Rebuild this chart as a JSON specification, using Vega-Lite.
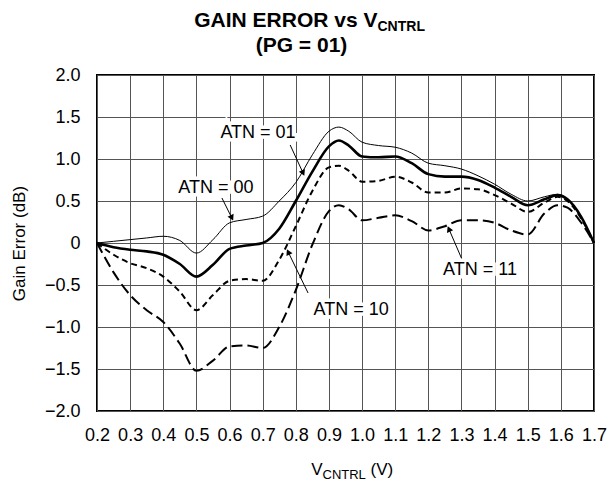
{
  "$schema": "https://vega.github.io/schema/vega-lite/v6.json",
  "width": 497,
  "height": 336,
  "autosize": "none",
  "padding": {"left": 97, "top": 75, "right": 22, "bottom": 69},
  "config": {
    "font": "Liberation Sans",
    "view": {"stroke": "black", "strokeWidth": 2},
    "axis": {"labelColor": "black", "titleColor": "black", "labelFont": "Liberation Sans", "titleFont": "Liberation Sans"}
  },
  "datasets": {
    "curves": [
      {"atn": "00", "v": 0.2, "g": 0}, {"atn": "00", "v": 0.25, "g": 0.02}, {"atn": "00", "v": 0.3, "g": 0.04}, {"atn": "00", "v": 0.35, "g": 0.06}, {"atn": "00", "v": 0.4, "g": 0.08}, {"atn": "00", "v": 0.45, "g": 0.03}, {"atn": "00", "v": 0.5, "g": -0.12}, {"atn": "00", "v": 0.55, "g": 0.04}, {"atn": "00", "v": 0.6, "g": 0.24}, {"atn": "00", "v": 0.65, "g": 0.28}, {"atn": "00", "v": 0.7, "g": 0.32}, {"atn": "00", "v": 0.75, "g": 0.5}, {"atn": "00", "v": 0.8, "g": 0.72}, {"atn": "00", "v": 0.85, "g": 1.05}, {"atn": "00", "v": 0.9, "g": 1.33}, {"atn": "00", "v": 0.93, "g": 1.38}, {"atn": "00", "v": 0.96, "g": 1.33}, {"atn": "00", "v": 1.0, "g": 1.2}, {"atn": "00", "v": 1.05, "g": 1.16}, {"atn": "00", "v": 1.1, "g": 1.14}, {"atn": "00", "v": 1.15, "g": 1.07}, {"atn": "00", "v": 1.2, "g": 0.95}, {"atn": "00", "v": 1.25, "g": 0.92}, {"atn": "00", "v": 1.3, "g": 0.88}, {"atn": "00", "v": 1.35, "g": 0.8}, {"atn": "00", "v": 1.4, "g": 0.7}, {"atn": "00", "v": 1.45, "g": 0.58}, {"atn": "00", "v": 1.5, "g": 0.5}, {"atn": "00", "v": 1.55, "g": 0.55}, {"atn": "00", "v": 1.59, "g": 0.58}, {"atn": "00", "v": 1.62, "g": 0.52}, {"atn": "00", "v": 1.66, "g": 0.32}, {"atn": "00", "v": 1.7, "g": 0},
      {"atn": "01", "v": 0.2, "g": 0}, {"atn": "01", "v": 0.25, "g": -0.05}, {"atn": "01", "v": 0.3, "g": -0.08}, {"atn": "01", "v": 0.35, "g": -0.1}, {"atn": "01", "v": 0.4, "g": -0.14}, {"atn": "01", "v": 0.45, "g": -0.25}, {"atn": "01", "v": 0.5, "g": -0.4}, {"atn": "01", "v": 0.55, "g": -0.26}, {"atn": "01", "v": 0.6, "g": -0.07}, {"atn": "01", "v": 0.65, "g": -0.03}, {"atn": "01", "v": 0.7, "g": 0.0}, {"atn": "01", "v": 0.75, "g": 0.17}, {"atn": "01", "v": 0.8, "g": 0.5}, {"atn": "01", "v": 0.85, "g": 0.85}, {"atn": "01", "v": 0.9, "g": 1.15}, {"atn": "01", "v": 0.93, "g": 1.22}, {"atn": "01", "v": 0.96, "g": 1.16}, {"atn": "01", "v": 1.0, "g": 1.03}, {"atn": "01", "v": 1.05, "g": 1.02}, {"atn": "01", "v": 1.1, "g": 1.03}, {"atn": "01", "v": 1.15, "g": 0.95}, {"atn": "01", "v": 1.2, "g": 0.82}, {"atn": "01", "v": 1.25, "g": 0.79}, {"atn": "01", "v": 1.3, "g": 0.79}, {"atn": "01", "v": 1.35, "g": 0.75}, {"atn": "01", "v": 1.4, "g": 0.66}, {"atn": "01", "v": 1.45, "g": 0.55}, {"atn": "01", "v": 1.5, "g": 0.45}, {"atn": "01", "v": 1.55, "g": 0.52}, {"atn": "01", "v": 1.59, "g": 0.57}, {"atn": "01", "v": 1.62, "g": 0.52}, {"atn": "01", "v": 1.66, "g": 0.32}, {"atn": "01", "v": 1.7, "g": 0},
      {"atn": "10", "v": 0.2, "g": 0}, {"atn": "10", "v": 0.25, "g": -0.14}, {"atn": "10", "v": 0.3, "g": -0.24}, {"atn": "10", "v": 0.35, "g": -0.3}, {"atn": "10", "v": 0.4, "g": -0.4}, {"atn": "10", "v": 0.45, "g": -0.58}, {"atn": "10", "v": 0.5, "g": -0.8}, {"atn": "10", "v": 0.55, "g": -0.62}, {"atn": "10", "v": 0.6, "g": -0.45}, {"atn": "10", "v": 0.65, "g": -0.43}, {"atn": "10", "v": 0.7, "g": -0.45}, {"atn": "10", "v": 0.75, "g": -0.2}, {"atn": "10", "v": 0.8, "g": 0.2}, {"atn": "10", "v": 0.85, "g": 0.62}, {"atn": "10", "v": 0.9, "g": 0.9}, {"atn": "10", "v": 0.93, "g": 0.92}, {"atn": "10", "v": 0.96, "g": 0.86}, {"atn": "10", "v": 1.0, "g": 0.73}, {"atn": "10", "v": 1.05, "g": 0.74}, {"atn": "10", "v": 1.1, "g": 0.79}, {"atn": "10", "v": 1.15, "g": 0.72}, {"atn": "10", "v": 1.2, "g": 0.6}, {"atn": "10", "v": 1.25, "g": 0.6}, {"atn": "10", "v": 1.3, "g": 0.65}, {"atn": "10", "v": 1.35, "g": 0.64}, {"atn": "10", "v": 1.4, "g": 0.57}, {"atn": "10", "v": 1.45, "g": 0.47}, {"atn": "10", "v": 1.5, "g": 0.37}, {"atn": "10", "v": 1.55, "g": 0.48}, {"atn": "10", "v": 1.59, "g": 0.55}, {"atn": "10", "v": 1.62, "g": 0.5}, {"atn": "10", "v": 1.66, "g": 0.3}, {"atn": "10", "v": 1.7, "g": 0},
      {"atn": "11", "v": 0.2, "g": 0}, {"atn": "11", "v": 0.25, "g": -0.35}, {"atn": "11", "v": 0.3, "g": -0.62}, {"atn": "11", "v": 0.35, "g": -0.8}, {"atn": "11", "v": 0.4, "g": -0.94}, {"atn": "11", "v": 0.45, "g": -1.2}, {"atn": "11", "v": 0.5, "g": -1.52}, {"atn": "11", "v": 0.55, "g": -1.4}, {"atn": "11", "v": 0.6, "g": -1.23}, {"atn": "11", "v": 0.65, "g": -1.22}, {"atn": "11", "v": 0.7, "g": -1.25}, {"atn": "11", "v": 0.75, "g": -1.0}, {"atn": "11", "v": 0.8, "g": -0.56}, {"atn": "11", "v": 0.85, "g": -0.02}, {"atn": "11", "v": 0.9, "g": 0.38}, {"atn": "11", "v": 0.93, "g": 0.45}, {"atn": "11", "v": 0.96, "g": 0.4}, {"atn": "11", "v": 1.0, "g": 0.27}, {"atn": "11", "v": 1.05, "g": 0.3}, {"atn": "11", "v": 1.1, "g": 0.33}, {"atn": "11", "v": 1.15, "g": 0.26}, {"atn": "11", "v": 1.2, "g": 0.15}, {"atn": "11", "v": 1.25, "g": 0.2}, {"atn": "11", "v": 1.3, "g": 0.27}, {"atn": "11", "v": 1.35, "g": 0.27}, {"atn": "11", "v": 1.4, "g": 0.24}, {"atn": "11", "v": 1.45, "g": 0.15}, {"atn": "11", "v": 1.5, "g": 0.1}, {"atn": "11", "v": 1.55, "g": 0.35}, {"atn": "11", "v": 1.59, "g": 0.45}, {"atn": "11", "v": 1.62, "g": 0.42}, {"atn": "11", "v": 1.66, "g": 0.25}, {"atn": "11", "v": 1.7, "g": 0}
    ],
    "notes": [
      {"label": "ATN = 00", "lx": 0.559, "ly": 0.655, "sx": 0.577, "sy": 0.536, "tx": 0.607, "ty": 0.298},
      {"label": "ATN = 01", "lx": 0.686, "ly": 1.31, "sx": 0.783, "sy": 1.167, "tx": 0.822, "ty": 0.833},
      {"label": "ATN = 10", "lx": 0.967, "ly": -0.798, "sx": 0.837, "sy": -0.595, "tx": 0.777, "ty": -0.107},
      {"label": "ATN = 11", "lx": 1.356, "ly": -0.32, "sx": 1.305, "sy": -0.226, "tx": 1.262, "ty": 0.167}
    ]
  },
  "resolve": {"axis": {"x": "independent"}},
  "layer": [
    {
      "data": {"name": "curves"},
      "transform": [{"filter": "datum.atn == '00'"}],
      "mark": {"type": "line", "interpolate": "monotone", "color": "black", "strokeWidth": 1},
      "encoding": {
        "x": {"field": "v", "type": "quantitative", "scale": {"domain": [0.2, 1.7], "nice": false},
          "axis": {"orient": "bottom", "values": [0.2, 0.3, 0.4, 0.5, 0.6, 0.7, 0.8, 0.9, 1.0, 1.1, 1.2, 1.3, 1.4, 1.5, 1.6, 1.7], "format": ".1f", "grid": true, "gridColor": "#555", "gridOpacity": 1, "ticks": false, "domain": false, "labelFontSize": 18, "labelPadding": 15, "labelFlush": false,
            "title": "V", "titleFontSize": 17, "titleFontWeight": "normal", "titleX": 225, "titleY": 63, "titleAlign": "right", "titleBaseline": "alphabetic"}},
        "y": {"field": "g", "type": "quantitative", "scale": {"domain": [-2, 2], "nice": false},
          "axis": {"values": [-2, -1.5, -1, -0.5, 0, 0.5, 1, 1.5, 2], "labelExpr": "datum.value == 0 ? '0' : format(datum.value, '.1f')", "grid": true, "gridColor": "#555", "gridOpacity": 1, "ticks": false, "domain": false, "labelFontSize": 18, "labelPadding": 17, "labelFlush": false,
            "title": "Gain Error (dB)", "titleFontSize": 17, "titleFontWeight": "normal", "titlePadding": 16}}
      }
    },
    {
      "data": {"name": "curves"},
      "transform": [{"filter": "datum.atn == '01'"}],
      "mark": {"type": "line", "interpolate": "monotone", "color": "black", "strokeWidth": 2.6},
      "encoding": {
        "x": {"field": "v", "type": "quantitative", "scale": {"domain": [0.2, 1.7], "nice": false},
          "axis": {"orient": "bottom", "labels": false, "ticks": false, "domain": false, "grid": false, "title": "CNTRL", "titleFontSize": 13, "titleFontWeight": "normal", "titleX": 225, "titleY": 67, "titleAlign": "left", "titleBaseline": "alphabetic"}},
        "y": {"field": "g", "type": "quantitative", "scale": {"domain": [-2, 2], "nice": false}}
      }
    },
    {
      "data": {"name": "curves"},
      "transform": [{"filter": "datum.atn == '10'"}],
      "mark": {"type": "line", "interpolate": "monotone", "color": "black", "strokeWidth": 2, "strokeDash": [6, 4]},
      "encoding": {
        "x": {"field": "v", "type": "quantitative", "scale": {"domain": [0.2, 1.7], "nice": false},
          "axis": {"orient": "bottom", "labels": false, "ticks": false, "domain": false, "grid": false, "title": "(V)", "titleFontSize": 17, "titleFontWeight": "normal", "titleX": 273, "titleY": 63, "titleAlign": "left", "titleBaseline": "alphabetic"}},
        "y": {"field": "g", "type": "quantitative", "scale": {"domain": [-2, 2], "nice": false}}
      }
    },
    {
      "data": {"name": "curves"},
      "transform": [{"filter": "datum.atn == '11'"}],
      "mark": {"type": "line", "interpolate": "monotone", "color": "black", "strokeWidth": 2, "strokeDash": [11, 5]},
      "encoding": {
        "x": {"field": "v", "type": "quantitative", "scale": {"domain": [0.2, 1.7], "nice": false},
          "axis": {"orient": "top", "labels": false, "ticks": false, "domain": false, "grid": false, "title": "GAIN ERROR vs V", "titleFontSize": 21, "titleFontWeight": "bold", "titleX": 280, "titleY": -49, "titleAlign": "right", "titleBaseline": "alphabetic"}},
        "y": {"field": "g", "type": "quantitative", "scale": {"domain": [-2, 2], "nice": false}}
      }
    },
    {
      "data": {"name": "notes"},
      "mark": {"type": "rule", "color": "black", "strokeWidth": 1},
      "encoding": {
        "x": {"field": "sx", "type": "quantitative", "scale": {"domain": [0.2, 1.7], "nice": false},
          "axis": {"orient": "top", "labels": false, "ticks": false, "domain": false, "grid": false, "title": "CNTRL", "titleFontSize": 14, "titleFontWeight": "bold", "titleX": 280, "titleY": -45, "titleAlign": "left", "titleBaseline": "alphabetic"}},
        "y": {"field": "sy", "type": "quantitative", "scale": {"domain": [-2, 2], "nice": false}},
        "x2": {"field": "tx"},
        "y2": {"field": "ty"}
      }
    },
    {
      "data": {"name": "notes"},
      "transform": [{"calculate": "atan2((datum.tx - datum.sx) * 331.3, (datum.ty - datum.sy) * 84) * 180 / PI", "as": "ang"}],
      "mark": {"type": "point", "shape": "triangle-up", "filled": true, "color": "black", "size": 45, "opacity": 1},
      "encoding": {
        "x": {"field": "tx", "type": "quantitative", "scale": {"domain": [0.2, 1.7], "nice": false},
          "axis": {"orient": "top", "labels": false, "ticks": false, "domain": false, "grid": false, "title": "(PG = 01)", "titleFontSize": 21, "titleFontWeight": "bold", "titleX": 204, "titleY": -24, "titleAlign": "center", "titleBaseline": "alphabetic"}},
        "y": {"field": "ty", "type": "quantitative", "scale": {"domain": [-2, 2], "nice": false}},
        "angle": {"field": "ang", "type": "quantitative", "scale": null}
      }
    },
    {
      "data": {"name": "notes"},
      "mark": {"type": "text", "fontSize": 18, "stroke": "white", "strokeWidth": 7, "fill": "white", "align": "center", "baseline": "middle"},
      "encoding": {
        "x": {"field": "lx", "type": "quantitative", "scale": {"domain": [0.2, 1.7], "nice": false}, "axis": null},
        "y": {"field": "ly", "type": "quantitative", "scale": {"domain": [-2, 2], "nice": false}},
        "text": {"field": "label"}
      }
    },
    {
      "data": {"name": "notes"},
      "mark": {"type": "text", "fontSize": 18, "color": "black", "align": "center", "baseline": "middle"},
      "encoding": {
        "x": {"field": "lx", "type": "quantitative", "scale": {"domain": [0.2, 1.7], "nice": false}, "axis": null},
        "y": {"field": "ly", "type": "quantitative", "scale": {"domain": [-2, 2], "nice": false}},
        "text": {"field": "label"}
      }
    }
  ]
}
